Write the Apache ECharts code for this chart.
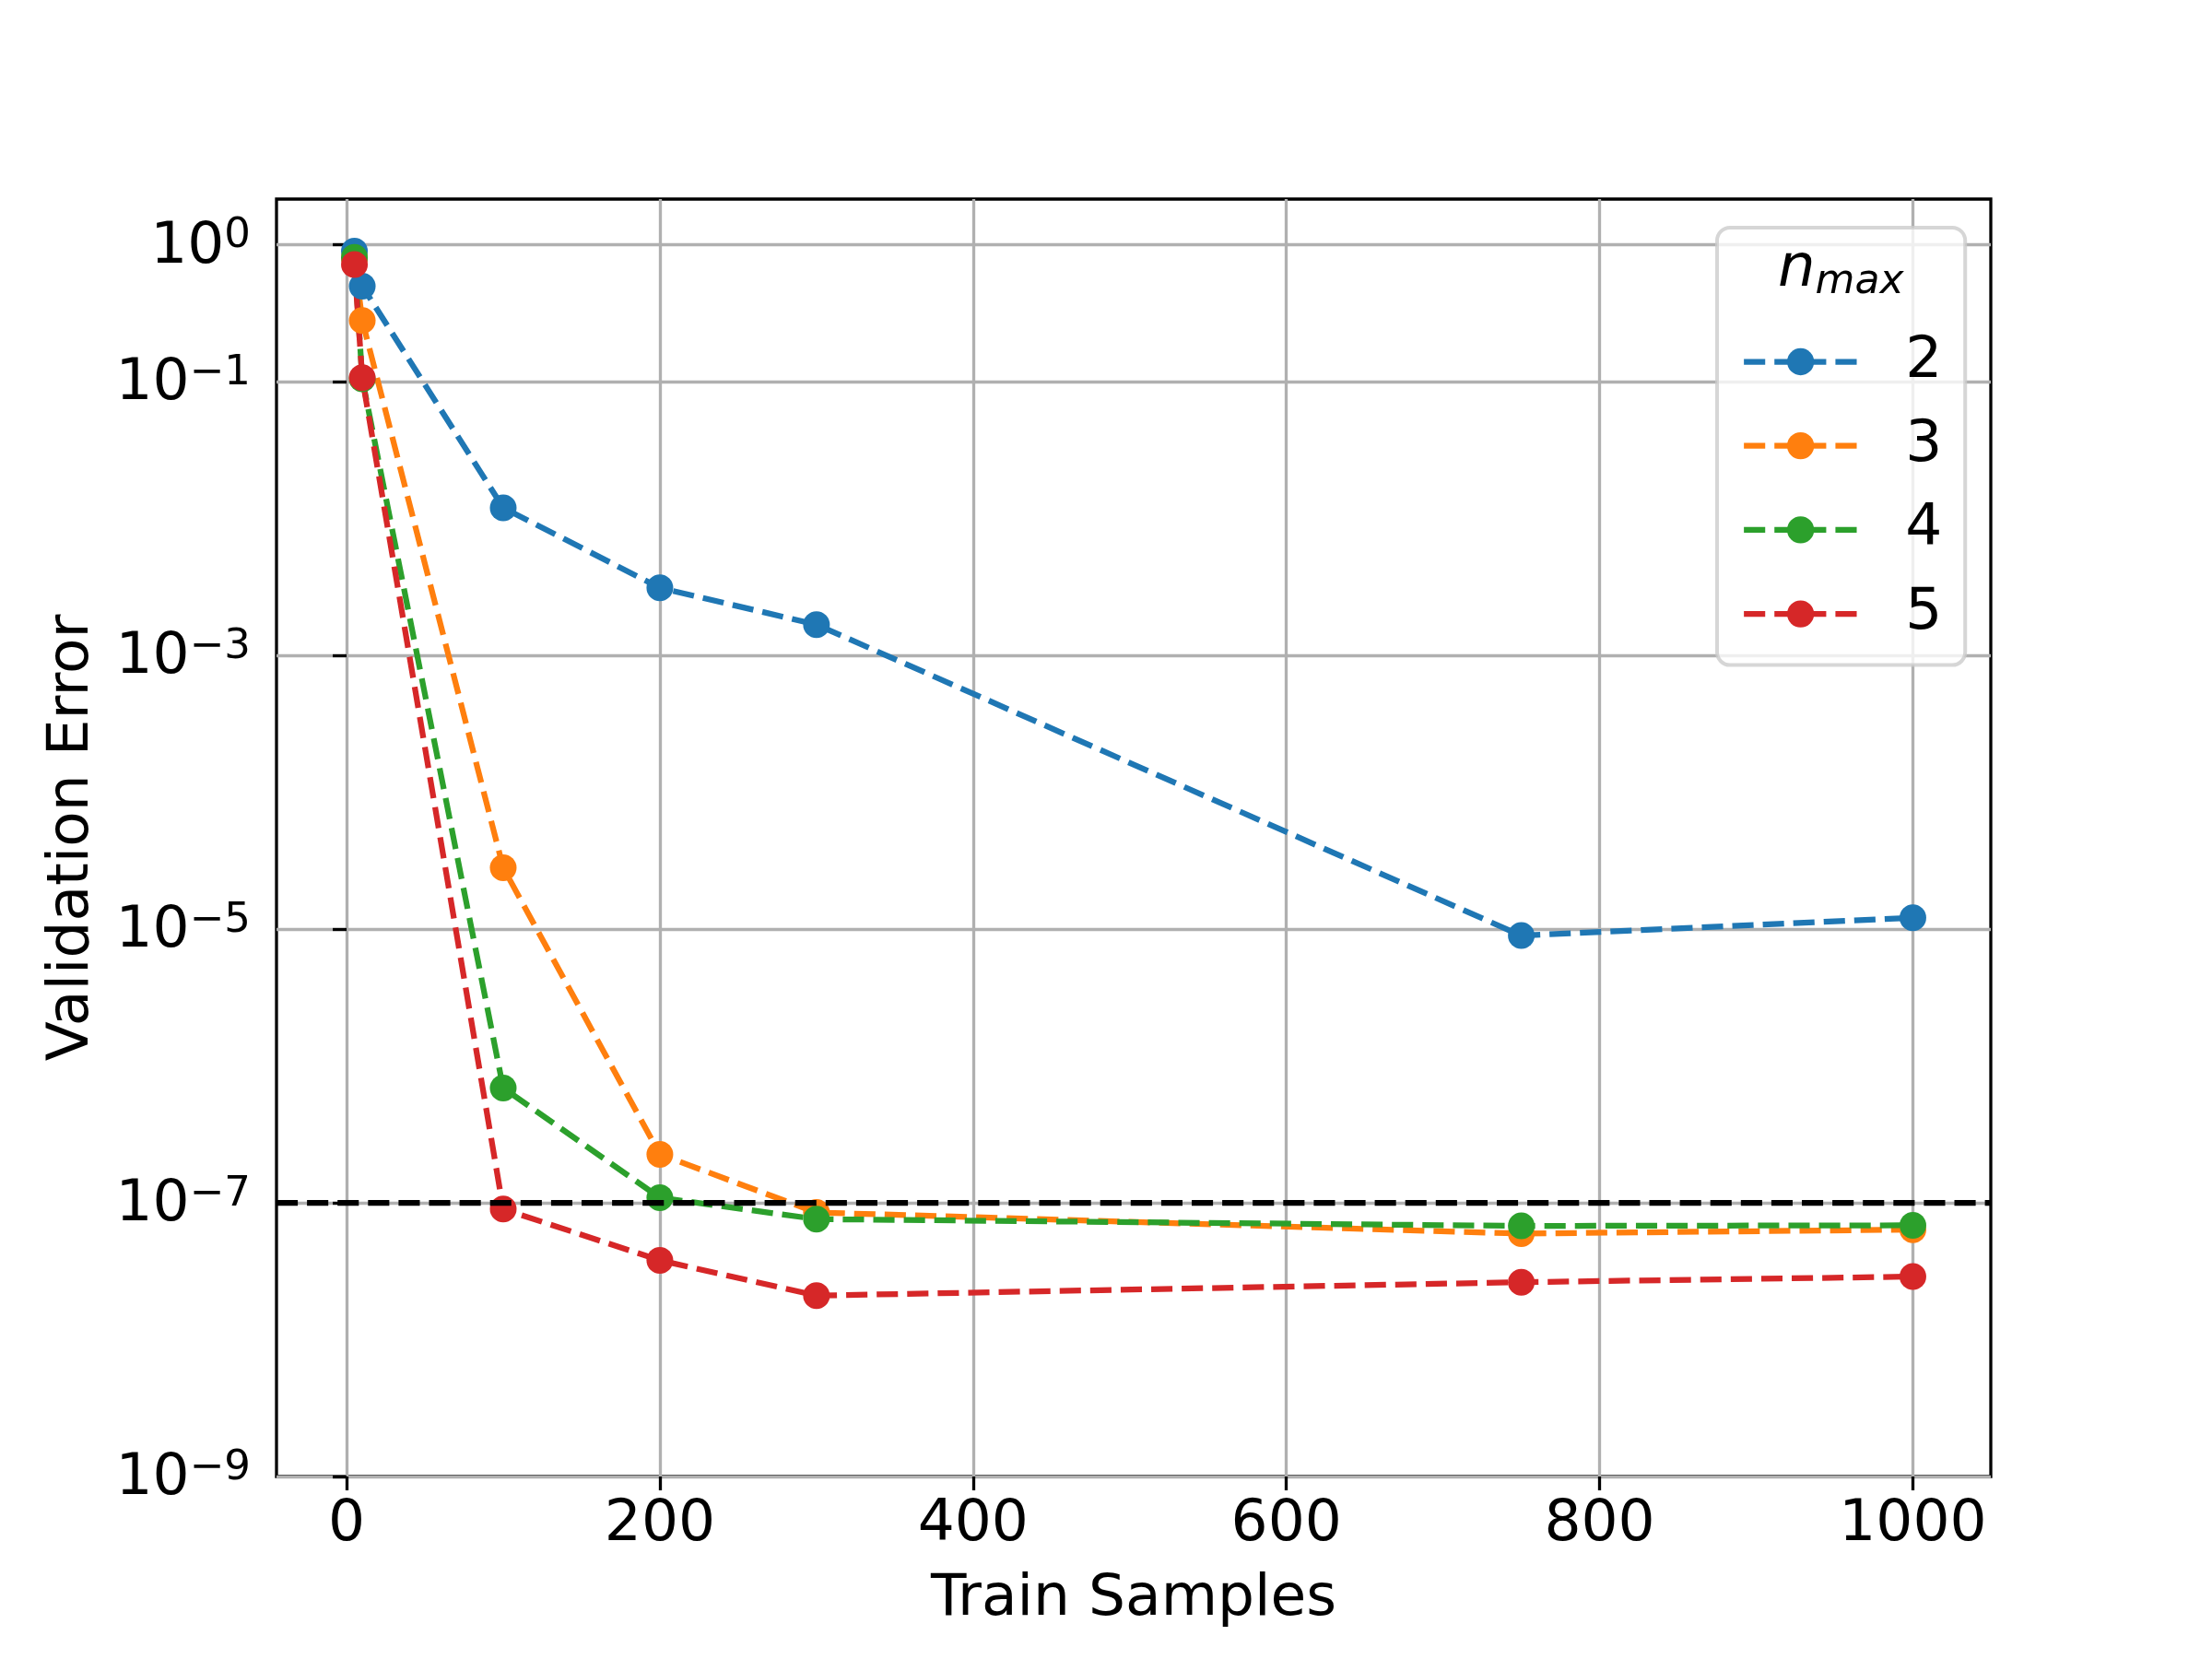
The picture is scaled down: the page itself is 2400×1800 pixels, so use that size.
<!DOCTYPE html>
<html>
<head>
<meta charset="utf-8">
<script src="https://cdn.jsdelivr.net/npm/echarts@6/dist/echarts.min.js"></script>
<style>
html,body{margin:0;padding:0;background:#fff;}
#chart{width:2400px;height:1800px;}
</style>
</head>
<body>
<div id="chart"></div>
<script>
// ---- data ----
var trainSamples = [5, 10, 100, 200, 300, 750, 1000];
var errN2 = [0.90, 0.50, 0.0120, 0.00312, 0.00168, 8.97e-6, 1.21e-5];
var errN3 = [0.80, 0.28, 2.81e-5, 2.26e-7, 8.5e-8, 5.96e-8, 6.37e-8];
var errN4 = [0.81, 0.105, 6.9e-7, 1.09e-7, 7.6e-8, 6.78e-8, 6.85e-8];
var errN5 = [0.72, 0.107, 9.0e-8, 3.8e-8, 2.1e-8, 2.63e-8, 2.89e-8];
var seriesNames = ['2', '3', '4', '5'];
var xTicks = [0, 200, 400, 600, 800, 1000];
var yTicks = [1e-9, 1e-7, 1e-5, 1e-3, 1e-1, 1];
var threshold = 1e-7;
var xMin = -44.75, xMax = 1049.75;
var yMin = 1e-9, yMax = 2.163;

var colors = ['#1f77b4', '#ff7f0e', '#2ca02c', '#d62728'];
var FONT = 'DejaVu Sans';
var LW = 6.25;
var DASH = [23.1, 10];

function pairs(ys) {
  return trainSamples.map(function (x, i) { return [x, ys[i]]; });
}
var allErr = [errN2, errN3, errN4, errN5];

var series = allErr.map(function (ys, i) {
  return {
    name: seriesNames[i],
    type: 'line',
    data: pairs(ys),
    symbol: 'circle',
    symbolSize: 29,
    showSymbol: true,
    itemStyle: { color: colors[i] },
    lineStyle: { color: colors[i], width: LW, type: DASH },
    emphasis: { disabled: true },
    animation: false,
    z: 2
  };
});
series.push({
  name: 'threshold',
  type: 'line',
  data: [[xMin, threshold], [xMax, threshold]],
  symbol: 'none',
  showSymbol: false,
  lineStyle: { color: '#000000', width: LW, type: DASH },
  itemStyle: { color: '#000000' },
  emphasis: { disabled: true },
  silent: true,
  animation: false,
  z: 3
});

var chart = echarts.init(document.getElementById('chart'), null, { renderer: 'canvas', width: 2400, height: 1800 });

chart.setOption({
  backgroundColor: '#ffffff',
  animation: false,
  textStyle: { fontFamily: FONT },
  title: {
    text: '{n|n}{s|max}',
    left: 1929,
    top: 265,
    padding: 0,
    textStyle: {
      fontWeight: 'normal',
      rich: {
        n: { fontFamily: FONT, fontSize: 64, fontStyle: 'italic', fontWeight: 'normal', lineHeight: 64, color: '#000', padding: [0, 0, 7, 0] },
        s: { fontFamily: FONT, fontSize: 44, fontStyle: 'italic', fontWeight: 'normal', lineHeight: 44, color: '#000', verticalAlign: 'bottom' }
      }
    }
  },
  legend: {
    orient: 'vertical',
    left: 1863,
    top: 247,
    padding: [114, 25, 24, 26],
    itemGap: 28.2,
    itemWidth: 123,
    itemHeight: 36.6,
    backgroundColor: 'rgba(255,255,255,0.8)',
    borderColor: 'rgba(204,204,204,0.8)',
    borderWidth: 4,
    borderRadius: 14,
    lineStyle: { width: LW, type: DASH },
    textStyle: { fontFamily: FONT, fontSize: 63, lineHeight: 63, color: '#000', padding: [0, 0, 0, 47] },
    data: seriesNames,
    selectedMode: false
  },
  grid: {
    left: 300, right: 240, top: 216, bottom: 198,
    show: true,
    borderColor: '#000',
    borderWidth: 3.3,
    backgroundColor: 'transparent'
  },
  xAxis: {
    type: 'value',
    min: xMin,
    max: xMax,
    name: 'Train Samples',
    nameLocation: 'middle',
    nameGap: 102,
    nameTextStyle: { fontFamily: FONT, fontSize: 63, color: '#000' },
    axisLine: { show: false },
    axisTick: { show: true, length: 15, customValues: xTicks, lineStyle: { color: '#000', width: 3.3 } },
    axisLabel: {
      show: true, customValues: xTicks, margin: 21, fontFamily: FONT, fontSize: 63, color: '#000',
      formatter: function (v) { return String(Math.round(v)); }
    },
    splitLine: { show: true, lineStyle: { color: '#b0b0b0', width: 3.3 } }
  },
  yAxis: {
    type: 'log',
    logBase: 10,
    min: yMin,
    max: yMax,
    name: 'Validation Error',
    nameLocation: 'middle',
    nameGap: 190,
    nameTextStyle: { fontFamily: FONT, fontSize: 63, color: '#000' },
    axisLine: { show: false },
    axisTick: { show: true, length: 15, customValues: yTicks, lineStyle: { color: '#000', width: 3.3 } },
    axisLabel: {
      show: true,
      customValues: yTicks,
      margin: 28,
      formatter: function (v) {
        var e = Math.round(Math.log10(v));
        var es = e < 0 ? '\u2212' + (-e) : '' + e;
        return '{b|10}{s|' + es + '}';
      },
      rich: {
        b: { fontFamily: FONT, fontSize: 63, lineHeight: 63, color: '#000', padding: [9, 0, 4, 0] },
        s: { fontFamily: FONT, fontSize: 45, lineHeight: 45, color: '#000', verticalAlign: 'top' }
      }
    },
    splitLine: { show: true, lineStyle: { color: '#b0b0b0', width: 3.3 } },
    minorTick: { show: false },
    minorSplitLine: { show: false }
  },
  series: series
});
</script>
</body>
</html>
